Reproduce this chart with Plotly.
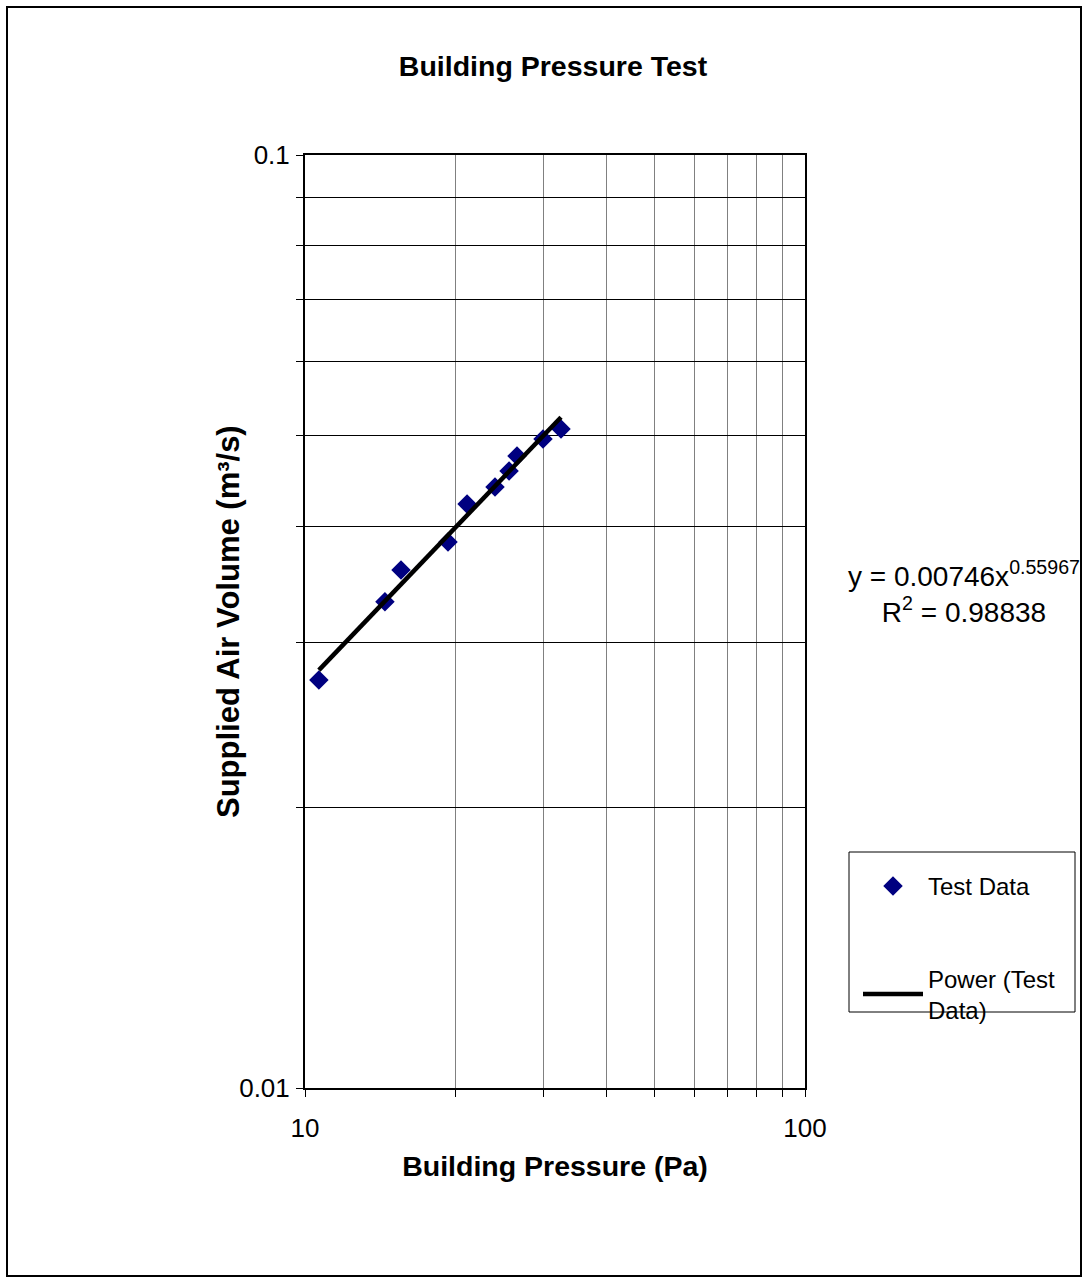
import plotly.graph_objects as go

# Data
pressure = [10.66, 14.45, 15.56, 19.32, 21.09, 23.99, 25.59, 26.55, 29.92, 32.51]
volume = [0.02737, 0.0332, 0.0359, 0.03847, 0.04226, 0.04406, 0.04584, 0.04758, 0.04961, 0.05085]

# Power trendline coefficients shown on the chart
fit_a = 0.00746
fit_b = 0.55967
fit_r2 = 0.98838

x_tickvals = [10, 100]
x_ticktext = ["10", "100"]
x_minor = [20, 30, 40, 50, 60, 70, 80, 90]
y_tickvals = [0.01, 0.1]
y_ticktext = ["0.01", "0.1"]
y_minor = [0.02, 0.03, 0.04, 0.05, 0.06, 0.07, 0.08, 0.09]

FONT = "Liberation Sans, Arial, sans-serif"

xmin, xmax = min(pressure), max(pressure)
n = 20
fit_x = [xmin * (xmax / xmin) ** (i / (n - 1)) for i in range(n)]
fit_y = [fit_a * x ** fit_b for x in fit_x]

fig = go.Figure()
fig.add_trace(go.Scatter(
    x=pressure, y=volume, mode="markers", name="Test Data",
    legendgroup="a",
    marker=dict(symbol="diamond", color="#000080", size=15,
                line=dict(width=0)),
))
fig.add_trace(go.Scatter(
    x=fit_x, y=fit_y, mode="lines", name="Power (Test<br>Data)",
    legendgroup="b",
    line=dict(color="black", width=4.5),
))

W, H = 1087, 1283
L, R, T, B = 305, 282, 155, 195
pw = W - L - R
ph = H - T - B

def px(xpix):
    return (xpix - L) / pw

def py(ypix):
    return (H - B - ypix) / ph

fig.update_layout(
    width=W, height=H,
    margin=dict(l=L, r=R, t=T, b=B, autoexpand=False),
    paper_bgcolor="white", plot_bgcolor="white",
    font=dict(family=FONT, color="black", size=24),
    title=dict(text="<b>Building Pressure Test</b>", x=553 / W, xanchor="center",
               y=1 - 66 / H, yanchor="middle", yref="container",
               font=dict(size=28.5, family=FONT, color="black")),
    showlegend=True,
    legend=dict(x=px(858), y=py(864), xanchor="left", yanchor="top",
                bgcolor="rgba(0,0,0,0)", borderwidth=0,
                font=dict(size=24, family=FONT, color="black"),
                tracegroupgap=58, itemwidth=60),
    xaxis=dict(
        type="log", range=[1, 2],
        tickmode="array", tickvals=x_tickvals, ticktext=x_ticktext,
        showgrid=False, zeroline=False,
        showline=True, linecolor="black", linewidth=2, mirror=True,
        ticks="outside", ticklen=7, tickcolor="black", tickwidth=1,
        tickfont=dict(size=26, family=FONT, color="black"),
        ticklabelstandoff=9,
        minor=dict(tickmode="array", tickvals=x_minor, showgrid=True,
                   gridcolor="#808080", gridwidth=1,
                   ticks="outside", ticklen=7, tickcolor="black", tickwidth=1),
        title=dict(text="<b>Building Pressure (Pa)</b>", standoff=14,
                   font=dict(size=28.5, family=FONT, color="black")),
    ),
    yaxis=dict(
        type="log", range=[-2, -1],
        tickmode="array", tickvals=y_tickvals, ticktext=y_ticktext,
        showgrid=False, zeroline=False,
        showline=True, linecolor="black", linewidth=2, mirror=True,
        ticks="outside", ticklen=7, tickcolor="black", tickwidth=1,
        tickfont=dict(size=26, family=FONT, color="black"),
        ticklabelstandoff=1,
        minor=dict(tickmode="array", tickvals=y_minor, showgrid=True,
                   gridcolor="black", gridwidth=1,
                   ticks="outside", ticklen=7, tickcolor="black", tickwidth=1),
    ),
    shapes=[
        dict(type="rect", xref="paper", yref="paper",
             x0=px(849), x1=px(1075), y0=py(1012), y1=py(852),
             line=dict(color="black", width=1), fillcolor="rgba(0,0,0,0)"),
        dict(type="rect", xref="paper", yref="paper",
             x0=px(7), x1=px(1081), y0=py(1276), y1=py(7),
             line=dict(color="black", width=2), fillcolor="rgba(0,0,0,0)"),
    ],
    annotations=[
        dict(xref="paper", yref="paper", x=px(228), y=py(622),
             xanchor="center", yanchor="middle", showarrow=False,
             textangle=-90,
             text="<b>Supplied Air Volume (m³/s)</b>",
             font=dict(size=31, family=FONT, color="black")),
        dict(xref="paper", yref="paper", x=px(964), y=py(592),
             xanchor="center", yanchor="middle", showarrow=False, align="center",
             text=f"y = {fit_a:.5f}x<sup>{fit_b:.5f}</sup><br>R<sup>2</sup> = {fit_r2:.5f}",
             font=dict(size=28, family=FONT, color="black")),
    ],
)

fig.write_html("out.html", config={"displayModeBar": False},
               post_script="document.body.style.margin='0px';")
